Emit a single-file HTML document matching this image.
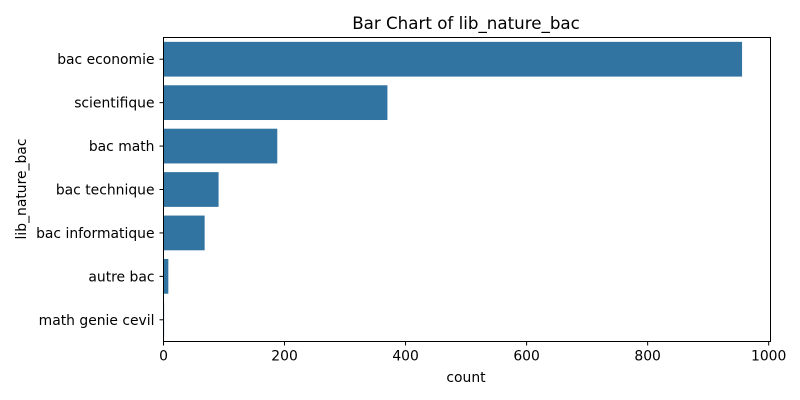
<!DOCTYPE html>
<html><head><meta charset="utf-8"><style>
html,body{margin:0;padding:0;background:#fff;}
svg{display:block;font-family:"DejaVu Sans","Liberation Sans",sans-serif;}
</style></head><body>
<svg id="chart" width="800" height="400">
<text x="466" y="29" font-size="16.7" text-anchor="middle" fill="#000">Bar Chart of lib_nature_bac</text>
<text x="466" y="382" font-size="13.9" text-anchor="middle" fill="#000">count</text>
<text transform="translate(26,189) rotate(-90)" font-size="13.9" text-anchor="middle" fill="#000">lib_nature_bac</text>
<g id="bars"></g>
<g id="xticks"></g>
<g id="yticks"></g>
<rect x="163.5" y="37.5" width="607" height="304" fill="none" stroke="#000" stroke-width="1"/>
</svg>
<script>
const categories = ["bac economie","scientifique","bac math","bac technique","bac informatique","autre bac","math genie cevil"];
const counts = [956, 370, 188, 91, 68, 8, 1];
const xTickValues = [0, 200, 400, 600, 800, 1000];

const L = 163.5, R = 770.5, T = 37.5, B = 341.5;
const xMax = 1003;
function xScale(v){ return L + v / xMax * (R - L); }
const band = (B - T) / categories.length;
function yCenter(i){ return T + band * (i + 0.5); }
const NS = "http://www.w3.org/2000/svg";
const bars = document.getElementById("bars");
const xt = document.getElementById("xticks");
const yt = document.getElementById("yticks");

categories.forEach((c, i) => {
  const h = band * 0.8;
  const r = document.createElementNS(NS, "rect");
  r.setAttribute("x", xScale(0));
  r.setAttribute("y", yCenter(i) - h / 2);
  r.setAttribute("width", Math.max(0, xScale(counts[i]) - xScale(0)));
  r.setAttribute("height", h);
  r.setAttribute("fill", "#3274a1");
  
  
  bars.appendChild(r);

  const tk = document.createElementNS(NS, "line");
  tk.setAttribute("x1", L - 4); tk.setAttribute("x2", L);
  tk.setAttribute("y1", yCenter(i)); tk.setAttribute("y2", yCenter(i));
  tk.setAttribute("stroke", "#000");
  
  
  yt.appendChild(tk);

  const t = document.createElementNS(NS, "text");
  t.setAttribute("x", L - 9);
  t.setAttribute("y", yCenter(i) + 5);
  t.setAttribute("font-size", "13.9");
  t.setAttribute("text-anchor", "end");
  t.textContent = c;
  
  
  yt.appendChild(t);
});

xTickValues.forEach(v => {
  const x = xScale(v);
  const tk = document.createElementNS(NS, "line");
  tk.setAttribute("x1", x); tk.setAttribute("x2", x);
  tk.setAttribute("y1", B); tk.setAttribute("y2", B + 4);
  tk.setAttribute("stroke", "#000");
  
  
  xt.appendChild(tk);
  const t = document.createElementNS(NS, "text");
  t.setAttribute("x", x);
  t.setAttribute("y", B + 19);
  t.setAttribute("font-size", "13.9");
  t.setAttribute("text-anchor", "middle");
  t.textContent = v;
  
  
  xt.appendChild(t);
});
</script>
</body></html>
